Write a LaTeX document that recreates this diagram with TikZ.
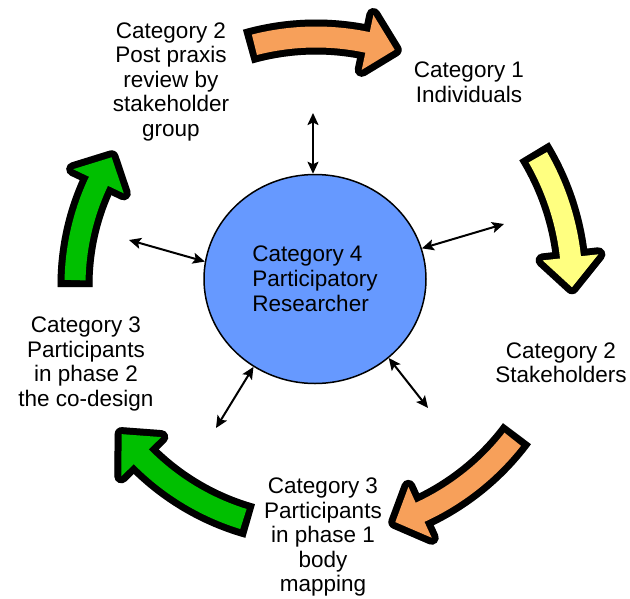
\documentclass[tikz,border=0pt]{standalone}
\usepackage{fontspec}
\setmainfont{Liberation Sans}
\usetikzlibrary{arrows.meta,shapes.geometric,calc}
\definecolor{corange}{HTML}{F7A05A}
\definecolor{cyellow}{HTML}{FFFF80}
\definecolor{cgreen}{HTML}{00BF00}
\definecolor{cblue}{HTML}{6699FF}
\definecolor{cshadow}{HTML}{C8C8C8}
% #1 radius, #2 tail angle, #3 head base angle, #4 tip angle, #5 colour
\newcommand{\bigarrow}[5]{%
  \pgfmathsetmacro{\rin}{#1-28}%
  \pgfmathsetmacro{\rout}{#1+28}%
  \pgfmathsetmacro{\atail}{#2-7/#1*57.2958}%
  \pgfmathsetmacro{\abase}{#3-0.5}%
  \begin{scope}[shift={(3,-4)}]
    \draw[cshadow, line width=35pt] ($(ctr)+(#2:#1)$) arc[start angle=#2, end angle=#3, radius=#1];
    \filldraw[cshadow, line width=14pt, line join=round] ($(ctr)+(#3:\rin)$) -- ($(ctr)+(#4:#1)$) -- ($(ctr)+(#3:\rout)$) -- cycle;
  \end{scope}
  \draw[black, line width=35pt] ($(ctr)+(#2:#1)$) arc[start angle=#2, end angle=#3, radius=#1];
  \filldraw[black, line width=14pt, line join=round] ($(ctr)+(#3:\rin)$) -- ($(ctr)+(#4:#1)$) -- ($(ctr)+(#3:\rout)$) -- cycle;
  \draw[#5, line width=21pt] ($(ctr)+(\atail:#1)$) arc[start angle=\atail, end angle=\abase, radius=#1];
  \fill[#5] ($(ctr)+(#3:\rin)$) -- ($(ctr)+(#4:#1)$) -- ($(ctr)+(#3:\rout)$) -- cycle;
}
\begin{document}
\begin{tikzpicture}[x=1pt,y=1pt,
  lbl/.style={align=center, inner sep=0pt, anchor=north, font=\fontsize{22.5}{24.5}\selectfont},
  dbl/.style={{Stealth[length=12pt,width=11pt,inset=2.5pt]}-{Stealth[length=12pt,width=11pt,inset=2.5pt]}, line width=2pt}]
\useasboundingbox (0,0) rectangle (630,-598);
\coordinate (ctr) at (316,-285);

\bigarrow{248}{106}{78}{71.5}{corange}
\bigarrow{256}{31.5}{6.2}{-0.5}{cyellow}
\bigarrow{250}{-36.5}{-65.4}{-71.5}{corange}
\bigarrow{245}{-105.6}{-135.5}{-142.5}{cgreen}
\bigarrow{241}{180.5}{154.5}{148}{cgreen}

\node[ellipse, draw=black, line width=1.5pt, fill=cblue, minimum width=222pt, minimum height=209pt, inner sep=0pt,
      align=left, font=\fontsize{22.5}{25}\selectfont] (circ) at (315,-279)
  {Category 4\\Participatory\\Researcher};

\node[lbl] (t2) at (171,-22.5) {Category 2\\Post praxis\\review by\\stakeholder\\group};
\node[lbl] (t1) at (469,-62) {Category 1\\Individuals};
\node[lbl] (t2s) at (561,-342.5) {Category 2\\Stakeholders};
\node[lbl] (t3a) at (323,-478) {Category 3\\Participants\\in phase 1\\body\\mapping};
\node[lbl] (t3b) at (86,-317) {Category 3\\Participants\\in phase 2\\the co-design};

\coordinate (pT) at (313,-113);
\coordinate (pR) at (504,-224);
\coordinate (pL) at (129,-240);
\coordinate (pLL) at (216,-428);
\coordinate (pLR) at (428,-408);
\draw[dbl] (pT) -- (pT |- circ.north);
\draw[dbl] (pR) -- (circ.16);
\draw[dbl] (pL) -- (circ.171);
\draw[dbl] (pLL) -- (circ.-125);
\draw[dbl] (pLR) -- (circ.-47);
\end{tikzpicture}
\end{document}
